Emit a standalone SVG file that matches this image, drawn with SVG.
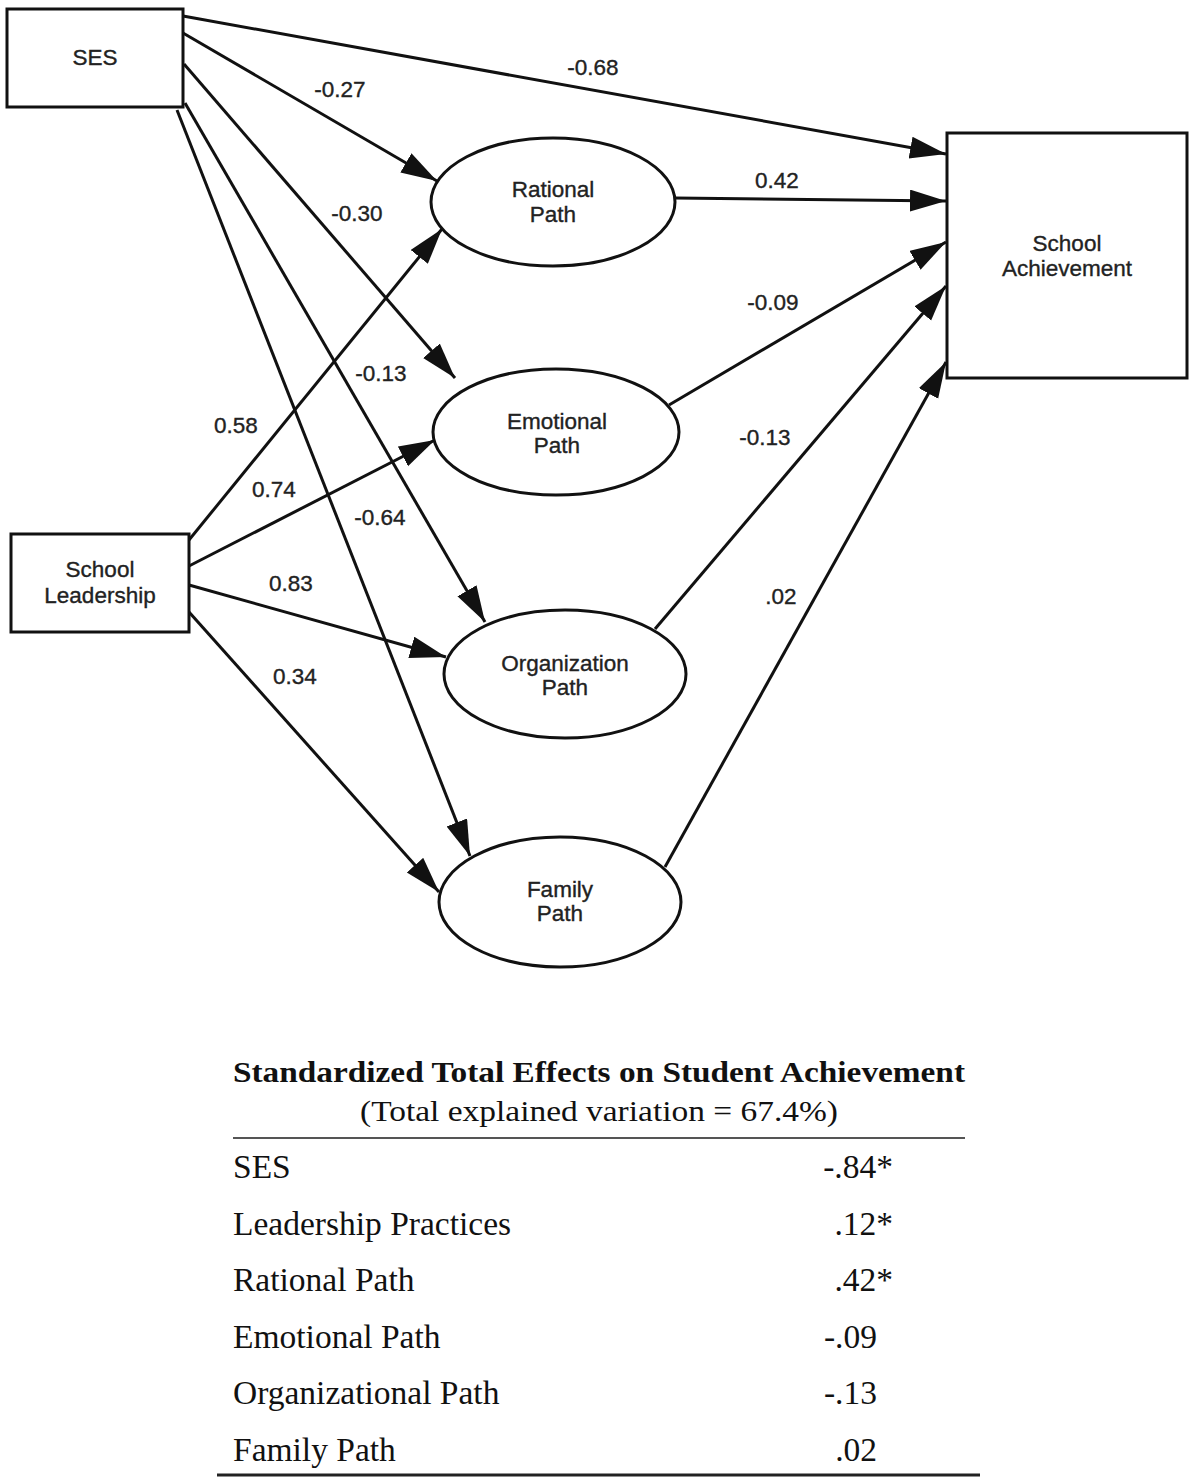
<svg xmlns="http://www.w3.org/2000/svg" width="1198" height="1484" viewBox="0 0 1198 1484">
<style>
.box{fill:#fff;stroke:#111;stroke-width:3}
.nt{font-family:"Liberation Sans",Arial,sans-serif;font-size:22.5px;fill:#222;stroke:#222;stroke-width:0.35;text-anchor:middle}
.el{font-family:"Liberation Sans",Arial,sans-serif;font-size:22.5px;fill:#222;stroke:#222;stroke-width:0.35;text-anchor:middle}
.edge{stroke:#111;stroke-width:3;fill:none;marker-end:url(#ah)}
.tt{font-family:"Liberation Serif","Times New Roman",serif;fill:#111}
</style>
<defs>
<marker id="ah" markerUnits="userSpaceOnUse" markerWidth="40" markerHeight="26" refX="36" refY="11" orient="auto">
<path d="M0,0 L36,11 L0,22 Z" fill="#111"/>
</marker>
</defs>
<rect width="1198" height="1484" fill="#fff"/>
<g id="connectors">
<line class="edge" x1="183" y1="16" x2="946" y2="154"/>
<line class="edge" x1="183" y1="33" x2="437" y2="181"/>
<line class="edge" x1="184" y1="64" x2="455" y2="378"/>
<line class="edge" x1="185" y1="103" x2="485" y2="622"/>
<line class="edge" x1="177" y1="110" x2="470" y2="856"/>
<line class="edge" x1="189" y1="540" x2="442" y2="229"/>
<line class="edge" x1="189" y1="566" x2="435" y2="440"/>
<line class="edge" x1="189" y1="585" x2="446" y2="657"/>
<line class="edge" x1="189" y1="612" x2="439" y2="892"/>
<line class="edge" x1="675" y1="198" x2="946" y2="201"/>
<line class="edge" x1="669" y1="405" x2="946" y2="242"/>
<line class="edge" x1="655" y1="629" x2="946" y2="286"/>
<line class="edge" x1="665" y1="867" x2="946" y2="362"/>
<text class="el" x="593" y="75">-0.68</text>
<text class="el" x="340" y="97">-0.27</text>
<text class="el" x="357" y="221">-0.30</text>
<text class="el" x="381" y="381">-0.13</text>
<text class="el" x="380" y="525">-0.64</text>
<text class="el" x="236" y="433">0.58</text>
<text class="el" x="274" y="497">0.74</text>
<text class="el" x="291" y="591">0.83</text>
<text class="el" x="295" y="684">0.34</text>
<text class="el" x="777" y="188">0.42</text>
<text class="el" x="773" y="310">-0.09</text>
<text class="el" x="765" y="445">-0.13</text>
<text class="el" x="781" y="604">.02</text>
</g>
<g id="ses">
<rect class="box" x="7" y="9" width="176" height="98"/>
<text class="nt" x="95" y="65">SES</text>
</g>
<g id="school-leadership">
<rect class="box" x="11" y="534" width="178" height="98"/>
<text class="nt" x="100" y="577">School</text>
<text class="nt" x="100" y="603">Leadership</text>
</g>
<g id="rational-path">
<ellipse class="box" cx="553" cy="202" rx="122" ry="64"/>
<text class="nt" x="553" y="197">Rational</text>
<text class="nt" x="553" y="222">Path</text>
</g>
<g id="emotional-path">
<ellipse class="box" cx="556" cy="432" rx="123" ry="63"/>
<text class="nt" x="557" y="429">Emotional</text>
<text class="nt" x="557" y="453">Path</text>
</g>
<g id="organization-path">
<ellipse class="box" cx="565" cy="674" rx="121" ry="64"/>
<text class="nt" x="565" y="671">Organization</text>
<text class="nt" x="565" y="695">Path</text>
</g>
<g id="family-path">
<ellipse class="box" cx="560" cy="902" rx="121" ry="65"/>
<text class="nt" x="560" y="897">Family</text>
<text class="nt" x="560" y="921">Path</text>
</g>
<g id="school-achievement">
<rect class="box" x="947" y="133" width="240" height="245"/>
<text class="nt" x="1067" y="251">School</text>
<text class="nt" x="1067" y="276">Achievement</text>
</g>
<g id="table">
<text class="tt" x="599" y="1082" font-size="30" font-weight="bold" text-anchor="middle" textLength="732" lengthAdjust="spacingAndGlyphs">Standardized Total Effects on Student Achievement</text>
<text class="tt" x="599" y="1121" font-size="30" text-anchor="middle" textLength="478" lengthAdjust="spacingAndGlyphs">(Total explained variation = 67.4%)</text>
<line x1="233" y1="1138" x2="965" y2="1138" stroke="#555" stroke-width="2"/>
<g font-size="33.5">
<text class="tt" x="233" y="1178">SES</text>
<text class="tt" x="233" y="1235">Leadership Practices</text>
<text class="tt" x="233" y="1291">Rational Path</text>
<text class="tt" x="233" y="1348">Emotional Path</text>
<text class="tt" x="233" y="1404">Organizational Path</text>
<text class="tt" x="233" y="1461">Family Path</text>
<text class="tt" x="893" y="1178" text-anchor="end">-.84*</text>
<text class="tt" x="893" y="1235" text-anchor="end">.12*</text>
<text class="tt" x="893" y="1291" text-anchor="end">.42*</text>
<text class="tt" x="877" y="1348" text-anchor="end">-.09</text>
<text class="tt" x="877" y="1404" text-anchor="end">-.13</text>
<text class="tt" x="877" y="1461" text-anchor="end">.02</text>
</g>
<line x1="217" y1="1475" x2="980" y2="1475" stroke="#222" stroke-width="3"/>
</g>
</svg>
